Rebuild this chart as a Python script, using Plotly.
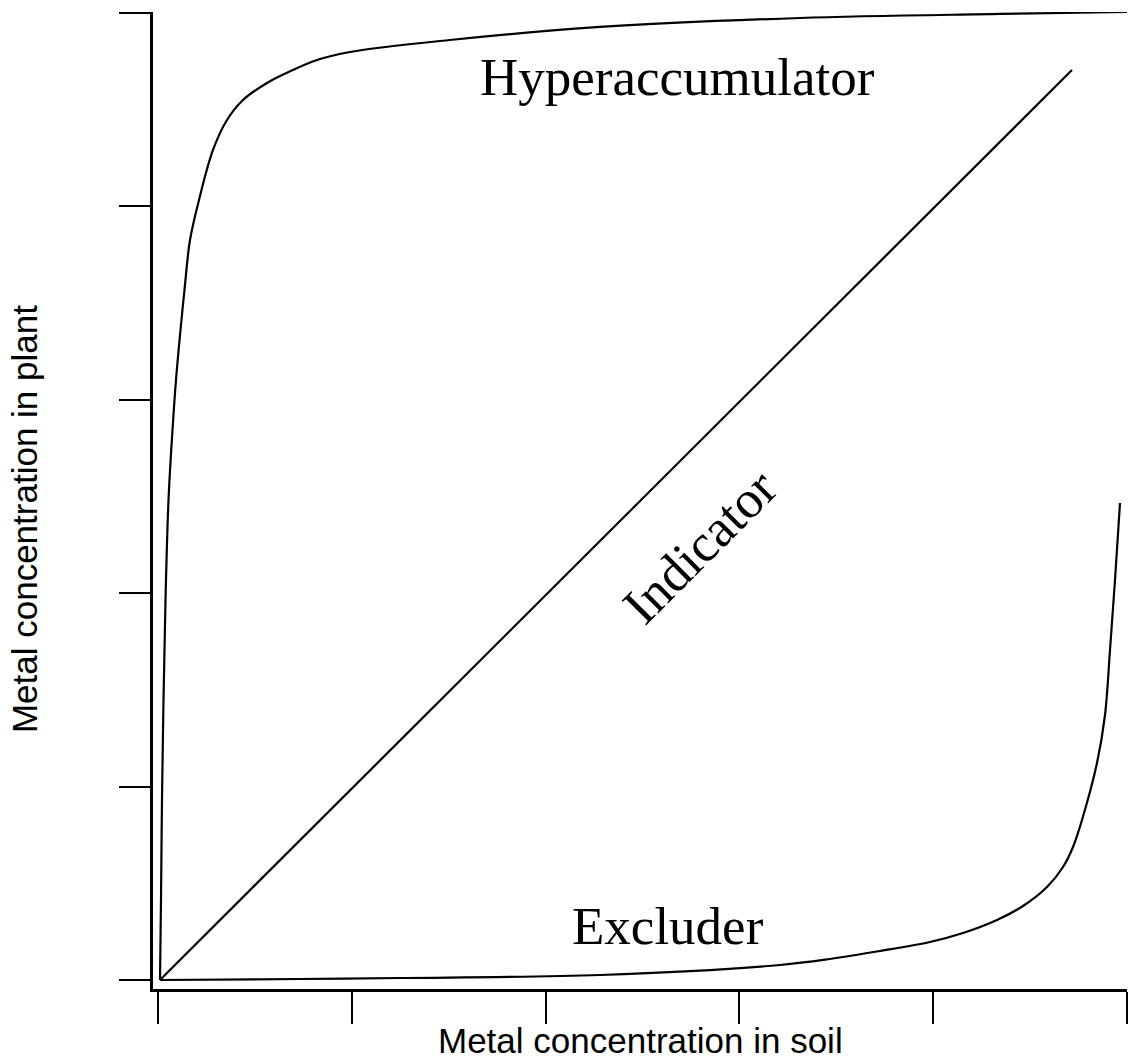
import plotly.graph_objects as go

# Hyperaccumulator curve (soil vs plant)
hyper_x = [0.0103, 0.0155, 0.0206, 0.0284, 0.0387, 0.0542, 0.0748, 0.0929, 0.1161, 0.1367,
           0.1651, 0.2116, 0.2838, 0.3560, 0.4386, 0.5624, 0.6966, 0.8204, 0.9907, 1.5067,
           2.2807, 3.3127, 4.3447, 5.0000]
hyper_y = [0.0000, 0.4137, 0.9307, 1.4478, 1.9648, 2.4819, 2.8438, 3.1024, 3.3609, 3.5677,
           3.8263, 4.0331, 4.2916, 4.4467, 4.5501, 4.6381, 4.7053, 4.7570, 4.7984, 4.8604,
           4.9276, 4.9741, 4.9948, 5.0052]

# Indicator line
ind_x = [0.010, 4.716]
ind_y = [0.000, 4.705]

# Excluder curve
excl_x = [0.0103, 0.7327, 1.2487, 2.2807, 3.2095, 3.4675, 3.7255, 3.9835, 4.1538, 4.3292,
          4.4634, 4.5872, 4.6698, 4.7214, 4.7678, 4.8452, 4.8865, 4.9123, 4.9381, 4.9639]
excl_y = [0.0000, 0.0052, 0.0103, 0.0259, 0.0776, 0.1086, 0.1499, 0.1965, 0.2430, 0.3102,
          0.3826, 0.4809, 0.5843, 0.6877, 0.8273, 1.1220, 1.3702, 1.7063, 2.0683, 2.4664]

tick_vals = [0, 1, 2, 3, 4, 5]

labels = ["Hyperaccumulator", "Indicator", "Excluder"]
label_x = [2.683, 2.797, 2.632]
label_y = [4.669, 2.243, 0.279]
label_angle = [0, -45, 0]

fig = go.Figure()
for xs, ys in [(hyper_x, hyper_y), (ind_x, ind_y), (excl_x, excl_y)]:
    fig.add_trace(go.Scatter(x=xs, y=ys, mode="lines",
                             line=dict(color="black", width=2.2, shape="spline", smoothing=1.0),
                             showlegend=False, hoverinfo="skip"))

for t, x, y, a in zip(labels, label_x, label_y, label_angle):
    fig.add_annotation(x=x, y=y, text=t, showarrow=False, textangle=a,
                       font=dict(family="Liberation Serif", size=53, color="black"),
                       xanchor="center", yanchor="middle")

fig.add_annotation(xref="paper", yref="paper", x=0.5, y=-0.0529, text="Metal concentration in soil",
                   showarrow=False, xanchor="center", yanchor="middle",
                   font=dict(family="Liberation Sans", size=35, color="black"))
fig.add_annotation(xref="paper", yref="paper", x=-0.1324, y=0.481, text="Metal concentration in plant",
                   showarrow=False, xanchor="center", yanchor="middle", textangle=-90,
                   font=dict(family="Liberation Sans", size=35, color="black"))

axis_common = dict(showgrid=False, zeroline=False, showticklabels=False,
                   showline=True, linecolor="black", linewidth=2.5,
                   ticks="outside", tickcolor="black", tickwidth=2.2,
                   tickvals=tick_vals, mirror=False)

fig.update_xaxes(range=[-0.0258, 5.0], ticklen=32, **axis_common)
fig.update_yaxes(range=[-0.0465, 5.005], ticklen=31, **axis_common)

fig.update_layout(width=1140, height=1059, autosize=False,
                  margin=dict(l=153, r=13, t=12, b=70),
                  paper_bgcolor="white", plot_bgcolor="white")

fig.write_html("out.html", config={"displayModeBar": False},
               post_script="document.body.style.margin='0px';document.body.style.overflow='hidden';")
